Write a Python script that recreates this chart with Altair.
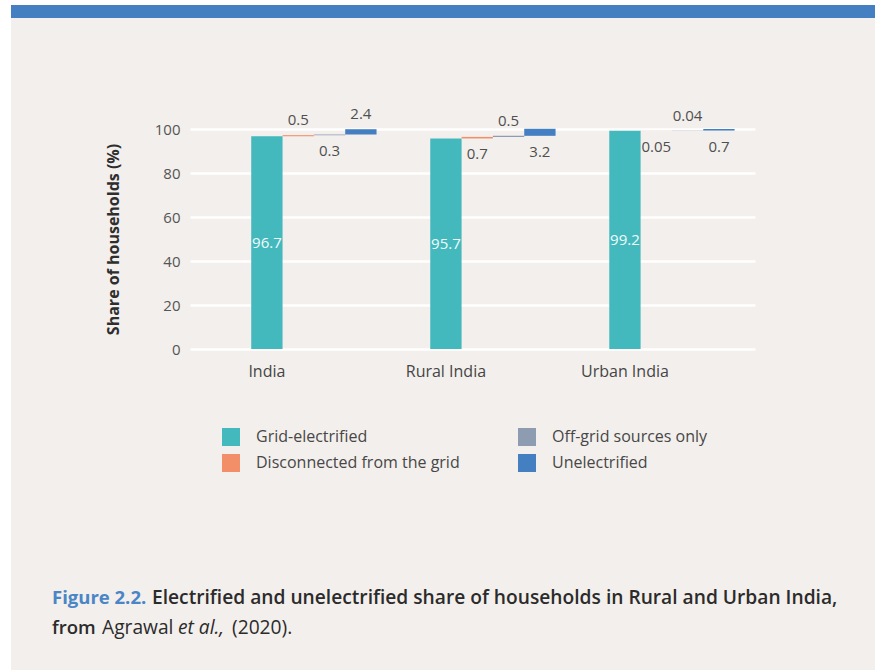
import altair as alt
import pandas as pd

categories = ["India", "Rural India", "Urban India"]
series = ["Grid-electrified", "Disconnected from the grid", "Off-grid sources only", "Unelectrified"]
grid_electrified = [96.7, 95.7, 99.2]
disconnected = [0.5, 0.7, 0.05]
off_grid = [0.3, 0.5, 0.04]
unelectrified = [2.4, 3.2, 0.7]
label_side = {
    "Grid-electrified": ["inside", "inside", "inside"],
    "Disconnected from the grid": ["above", "below", "below"],
    "Off-grid sources only": ["below", "above", "above"],
    "Unelectrified": ["above", "below", "below"],
}
series_colors = ["#43b9be", "#f28f69", "#8e9cb2", "#447fc1"]
y_ticks = [0, 20, 40, 60, 80, 100]

values_by_series = [grid_electrified, disconnected, off_grid, unelectrified]
rows = []
for i, cat in enumerate(categories):
    start = 0.0
    for s, vals in zip(series, values_by_series):
        v = vals[i]
        rows.append(dict(category=cat, series=s, value=v, start=start, end=start + v,
                         mid=start + v / 2, side=label_side[s][i], label=str(v)))
        start += v
df = pd.DataFrame(rows)

FONT = "Open Sans"

y_scale = alt.Scale(domain=[0, 100])
y_axis = alt.Axis(title="Share of households (%)", titleFontSize=16, titleFontWeight="bold",
                  titleColor="#2e2e2e", titlePadding=33, values=y_ticks, labelFontSize=15,
                  labelColor="#555555", labelPadding=10, ticks=False, tickSize=0, domain=False,
                  gridColor="white", gridWidth=2.5, labelFont=FONT, titleFont=FONT)

base = alt.Chart(df).encode(
    x=alt.X("category:N", sort=categories,
            scale=alt.Scale(paddingInner=0.3, paddingOuter=0.228, align=0.75),
            axis=alt.Axis(title=None, labelAngle=0, labelFontSize=16, labelColor="#454545",
                          labelPadding=14, labelOffset=-47, ticks=False, domain=False, grid=False,
                          labelFont=FONT)),
    xOffset=alt.XOffset("series:N", sort=series, scale=alt.Scale(paddingInner=0, paddingOuter=0)),
)

bars = base.mark_bar().encode(
    y=alt.Y("start:Q", scale=y_scale, axis=y_axis),
    y2="end:Q",
    color=alt.Color("series:N", scale=alt.Scale(domain=series, range=series_colors),
                    legend=alt.Legend(title=None, orient="none", legendX=32, legendY=299,
                                      columns=2, symbolType="square", symbolSize=324,
                                      symbolStrokeWidth=0, labelFontSize=16, labelLimit=400,
                                      labelColor="#474747", labelOffset=16, columnPadding=58,
                                      rowPadding=8, padding=0, labelFont=FONT)),
)

inside = base.mark_text(color="#f2fbfb", fontSize=15, font=FONT).encode(
    y=alt.Y("mid:Q", scale=y_scale, axis=y_axis), text="label:N"
).transform_filter(alt.datum.side == "inside")

above = base.mark_text(color="#4f4f4f", fontSize=15, font=FONT, baseline="bottom", dy=-7).encode(
    y=alt.Y("end:Q", scale=y_scale, axis=y_axis), text="label:N"
).transform_filter(alt.datum.side == "above")

below = base.mark_text(color="#4f4f4f", fontSize=15, font=FONT, baseline="top", dy=9).encode(
    y=alt.Y("start:Q", scale=y_scale, axis=y_axis), text="label:N"
).transform_filter(alt.datum.side == "below")

one = pd.DataFrame({"k": [0]})
deco_white_left = alt.Chart(one).mark_rect(color="white").encode(
    x=alt.value(-190), x2=alt.value(-179), y=alt.value(-129), y2=alt.value(541))
deco_white_top = alt.Chart(one).mark_rect(color="white").encode(
    x=alt.value(-190), x2=alt.value(685), y=alt.value(-129), y2=alt.value(-124))
deco_blue = alt.Chart(one).mark_rect(color="#447fc1").encode(
    x=alt.value(-179), x2=alt.value(685), y=alt.value(-124), y2=alt.value(-111))

cap_y1 = 475
cap_y2 = 505


def cap(text, x, y, weight=600, color="#2b2b2b", style="normal", size=19.2):
    return alt.Chart(one).mark_text(text=text, font=FONT, fontSize=size, fontWeight=weight,
                                    fontStyle=style, color=color, align="left",
                                    baseline="alphabetic").encode(x=alt.value(x), y=alt.value(y))


cap1a = cap("Figure 2.2.", -138, cap_y1, weight=700, color="#4a86c6", size=18.5)
cap1b = cap("Electrified and unelectrified share of households in Rural and Urban India,", -38, cap_y1)
cap2a = cap("from", -138, cap_y2, size=18.5)
cap2b = cap("Agrawal", -88, cap_y2, weight=400)
cap2c = cap("et al.,", -12, cap_y2, weight=400, style="italic")
cap2d = cap("(2020).", 42, cap_y2, weight=400)

chart = alt.layer(
    bars, inside, above, below,
    deco_white_left, deco_white_top, deco_blue,
    cap1a, cap1b, cap2a, cap2b, cap2c, cap2d,
).properties(
    width=565, height=220,
    autosize=alt.AutoSizeParams(type="none"),
    padding={"left": 190, "top": 129, "right": 120, "bottom": 321},
).configure(
    background="#f3efec", font=FONT,
).configure_view(stroke=None)

chart.save("out.html", embed_options={"renderer": "svg", "actions": False})
